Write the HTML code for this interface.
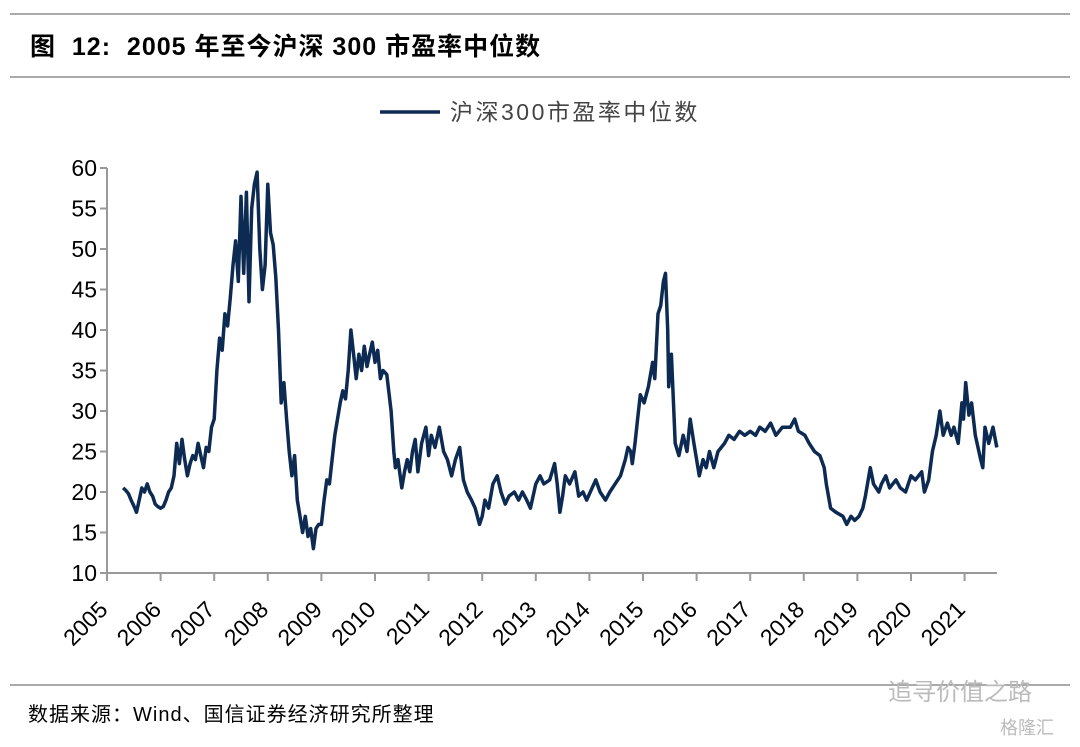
<!DOCTYPE html>
<html><head><meta charset="utf-8"><style>
body{margin:0;width:1080px;height:742px;background:#fff;overflow:hidden;font-family:"Liberation Sans","Noto Sans CJK SC",sans-serif;}
</style></head><body>
<svg width="1080" height="742" xmlns="http://www.w3.org/2000/svg">
<line x1="10" y1="14" x2="1070" y2="14" stroke="#555" stroke-width="1"/>
<text x="30" y="55" font-size="25" font-weight="bold" fill="#000" letter-spacing="1" xml:space="preserve" font-family="Liberation Sans, Noto Sans CJK SC, sans-serif">图  12:  2005 年至今沪深 300 市盈率中位数</text>
<line x1="10" y1="77" x2="1070" y2="77" stroke="#555" stroke-width="1"/>
<g>
<line x1="380" y1="112" x2="440" y2="112" stroke="#0d2a52" stroke-width="3.5"/>
<text x="450" y="120" font-size="23" fill="#444" letter-spacing="2.5" font-family="Liberation Sans, Noto Sans CJK SC, sans-serif">沪深300市盈率中位数</text>
</g>
<g id="axes"></g>
<path id="series" fill="none" stroke="#0d2a52" stroke-width="3.5" stroke-linejoin="round"/>
<line x1="10" y1="685" x2="1070" y2="685" stroke="#555" stroke-width="1"/>
<text x="28" y="721" font-size="20" fill="#000" letter-spacing="1" font-family="Liberation Sans, Noto Sans CJK SC, sans-serif">数据来源：Wind、国信证券经济研究所整理</text>
<text x="888" y="700" font-size="24" fill="#bbb" font-family="Liberation Sans, Noto Sans CJK SC, sans-serif">追寻价值之路</text>
<text x="1000" y="734" font-size="18" fill="#bbb" font-family="Liberation Sans, Noto Sans CJK SC, sans-serif">格隆汇</text>
</svg>
<script>
const yTicks=[10,15,20,25,30,35,40,45,50,55,60];
const xTicks=[2005,2006,2007,2008,2009,2010,2011,2012,2013,2014,2015,2016,2017,2018,2019,2020,2021];
const dates=[2005.30,2005.35,2005.40,2005.45,2005.50,2005.55,2005.60,2005.65,2005.70,2005.75,2005.80,2005.85,2005.90,2005.95,
2006.00,2006.05,2006.10,2006.15,2006.20,2006.25,2006.30,2006.35,2006.40,2006.45,2006.50,2006.55,2006.60,2006.65,2006.70,2006.75,2006.80,2006.85,2006.90,2006.95,
2007.00,2007.05,2007.10,2007.15,2007.20,2007.25,2007.30,2007.35,2007.40,2007.45,2007.50,2007.55,2007.60,2007.65,2007.70,2007.75,2007.80,2007.85,2007.90,2007.95,
2008.00,2008.05,2008.10,2008.15,2008.20,2008.25,2008.30,2008.35,2008.40,2008.45,2008.50,2008.55,2008.60,2008.65,2008.70,2008.75,2008.80,2008.85,2008.90,2008.95,
2009.0,2009.05,2009.1,2009.15,2009.2,2009.25,2009.3,2009.35,2009.4,2009.45,2009.5,2009.55,2009.6,2009.65,2009.7,2009.75,2009.8,2009.85,2009.9,2009.95,
2010.0,2010.05,2010.1,2010.15,2010.22,2010.3,2010.35,2010.38,2010.43,2010.5,2010.55,2010.6,2010.65,2010.7,2010.75,2010.8,2010.87,2010.95,
2011.0,2011.05,2011.12,2011.2,2011.28,2011.35,2011.43,2011.5,2011.58,2011.65,2011.72,2011.8,2011.87,2011.95,
2012.0,2012.05,2012.12,2012.2,2012.28,2012.35,2012.43,2012.5,2012.6,2012.68,2012.75,2012.83,2012.9,2012.95,
2013.0,2013.08,2013.15,2013.26,2013.35,2013.4,2013.45,2013.5,2013.55,2013.63,2013.73,2013.8,2013.88,2013.95,
2014.05,2014.12,2014.2,2014.3,2014.38,2014.48,2014.58,2014.67,2014.72,2014.77,2014.8,2014.85,2014.9,2014.95,
2015.02,2015.1,2015.18,2015.22,2015.28,2015.33,2015.38,2015.42,2015.46,2015.48,2015.53,2015.6,2015.67,2015.75,2015.82,2015.88,2015.95,
2016.05,2016.12,2016.18,2016.24,2016.32,2016.4,2016.52,2016.6,2016.7,2016.8,2016.9,
2017.0,2017.1,2017.18,2017.28,2017.38,2017.48,2017.6,2017.75,2017.83,2017.9,
2018.02,2018.1,2018.2,2018.3,2018.38,2018.42,2018.5,2018.6,2018.73,2018.8,2018.88,2018.95,
2019.03,2019.1,2019.15,2019.24,2019.3,2019.4,2019.45,2019.53,2019.6,2019.72,2019.8,2019.9,
2020.0,2020.08,2020.2,2020.25,2020.33,2020.4,2020.47,2020.54,2020.6,2020.68,2020.75,2020.8,2020.88,2020.95,2020.98,
2021.02,2021.08,2021.13,2021.2,2021.3,2021.34,2021.38,2021.45,2021.53,2021.6];
const values=[20.5,20.2,19.8,19.0,18.3,17.5,19.0,20.5,20.0,21.0,20.0,19.5,18.5,18.2,
18.0,18.2,19.0,20.0,20.5,22.0,26.0,23.5,26.5,24.0,22.0,23.5,24.5,24.0,26.0,24.5,23.0,25.5,25.0,28.0,
29.0,35.0,39.0,37.5,42.0,40.5,44.0,48.0,51.0,46.0,56.5,47.0,57.0,43.5,55.0,58.0,59.5,50.0,45.0,48.0,
58.0,52.0,50.5,46.5,40.0,31.0,33.5,29.0,25.0,22.0,24.5,19.0,17.0,15.0,17.0,14.5,15.5,13.0,15.5,16.0,
16,19,21.5,21,24,27,29,31,32.5,31.5,35,40,37,34,37,35,38,35.5,37,38.5,
36,37.5,34,35,34.5,30,25,23,24,20.5,22.5,24,22.5,25,26.5,22.5,26,28,
24.5,27,25.5,28,25,24,22,24,25.5,21.5,20,19,18,16,
17,19,18,21,22,20,18.5,19.5,20,19,20,19,18,19.5,
21,22,21,21.5,23.5,21,17.5,19.5,22,21,22.5,19.5,20,19,
20.5,21.5,20,19,20,21,22,24,25.5,25,23.5,26,29,32,
31,33,36,34,42,43,46,47,40,33,37,26,24.5,27,25,29,26,
22,24,23,25,23,25,26,27,26.5,27.5,27,
27.5,27,28,27.5,28.5,27,28,28,29,27.5,
27,26,25,24.5,23,21,18,17.5,17,16,17,16.5,
17,18,19.5,23,21,20,21,22,20.5,21.5,20.5,20,
22,21.5,22.5,20,21.5,25,27,30,27,28.5,27,28,26,31,29,
33.5,29.5,31,27,24,23,28,26,28,25.5];
const NS="http://www.w3.org/2000/svg";
const X0=107,XS=53.6,Y0=573,YS=(573-168)/50;
function xs(d){return X0+(d-2005)*XS;}
function ys(v){return Y0-(v-10)*YS;}
const ax=document.getElementById('axes');
function mk(tag,attrs){const e=document.createElementNS(NS,tag);for(const k in attrs)e.setAttribute(k,attrs[k]);ax.appendChild(e);return e;}
let e=mk('line',{x1:X0,y1:168,x2:X0,y2:Y0,stroke:'#999','stroke-width':2});


e=mk('line',{x1:X0,y1:Y0,x2:997,y2:Y0,stroke:'#999','stroke-width':2});


yTicks.forEach(v=>{
 const t=mk('line',{x1:X0-7,y1:ys(v),x2:X0,y2:ys(v),stroke:'#999','stroke-width':2});
 
 
 const l=mk('text',{x:X0-10,y:ys(v)+8,'font-size':23,'text-anchor':'end',fill:'#000'});
 
 
 l.textContent=v;
});
xTicks.forEach(d=>{
 const x=xs(d);
 const t=mk('line',{x1:x,y1:Y0,x2:x,y2:Y0+8,stroke:'#999','stroke-width':2});
 
 
 const ax0=x+2, ay0=Y0+38;
 const l=mk('text',{x:ax0,y:ay0,'font-size':23,'text-anchor':'end',fill:'#000',transform:`rotate(-45 ${ax0} ${ay0})`});
 
 
 l.textContent=d;
});
document.getElementById('series').setAttribute('d',dates.map((d,i)=>(i?'L':'M')+xs(d).toFixed(1)+' '+ys(values[i]).toFixed(1)).join(' '));
</script>
</body></html>
